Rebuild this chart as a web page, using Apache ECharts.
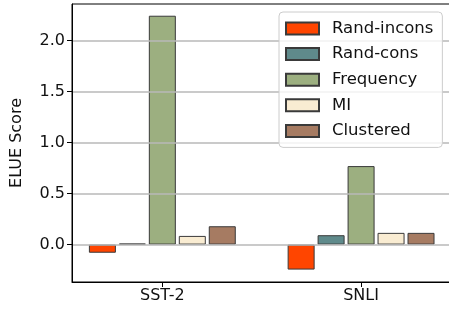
<!DOCTYPE html>
<html><head><meta charset="utf-8">
<script src="https://cdn.jsdelivr.net/npm/echarts@6/dist/echarts.min.js"></script>
<style>html,body{margin:0;padding:0;background:#fff}#c{width:449px;height:311px}</style>
</head><body><div id="c"></div>
<script>
const categories = ['SST-2', 'SNLI'];
const seriesNames = ['Rand-incons', 'Rand-cons', 'Frequency', 'MI', 'Clustered'];
const randIncons = [-0.08, -0.245];
const randCons = [0.01, 0.092];
const frequency = [2.245, 0.77];
const mi = [0.085, 0.115];
const clustered = [0.18, 0.115];
const yTicks = [0, 0.5, 1.0, 1.5, 2.0];
const colors = ['#ff4500', '#5f8a8b', '#9caf80', '#f9ecd2', '#a67b62'];

const values = [randIncons, randCons, frequency, mi, clustered];
const font = 'DejaVu Sans';
const chart = echarts.init(document.getElementById('c'), null, {renderer: 'canvas'});
chart.setOption({
  animation: false,
  textStyle: {fontFamily: font},
  grid: {left: 72, top: 4, width: 381, height: 278, show: true, borderColor: '#000', borderWidth: 1,
         backgroundColor: 'transparent', outerBoundsMode: 'none', containLabel: false},
  legend: {
    orient: 'vertical', left: 279, top: 12,
    padding: [8, 9, 8, 6],
    itemWidth: 33, itemHeight: 12, itemGap: 8.6,
    icon: 'rect',
    backgroundColor: 'rgba(255,255,255,0.8)',
    borderColor: '#cccccc', borderWidth: 1, borderRadius: 4,
    textStyle: {fontFamily: font, fontSize: 16.5, color: '#111', lineHeight: 16.5, padding: [0, 0, 0, 8]},
    data: seriesNames
  },
  xAxis: {
    type: 'value', min: -0.4545, max: 1.4625,
    axisLine: {show: true, onZero: false, lineStyle: {color: '#000', width: 1}},
    axisTick: {show: true, customValues: [0, 1], length: 5, lineStyle: {color: '#000'}},
    axisLabel: {customValues: [0, 1], formatter: v => categories[Math.round(v)], fontFamily: font, fontSize: 16, color: '#111', margin: 6},
    splitLine: {show: false}
  },
  yAxis: {
    type: 'value', min: -0.367, max: 2.36, z: 3,
    name: 'ELUE Score', nameLocation: 'middle', nameGap: 47,
    nameTextStyle: {fontFamily: font, fontSize: 16, color: '#111'},
    axisLine: {show: true, onZero: false, lineStyle: {color: '#000', width: 1}},
    axisTick: {show: true, customValues: yTicks, length: 5, lineStyle: {color: '#000'}},
    axisLabel: {customValues: yTicks, formatter: v => v.toFixed(1), fontFamily: font, fontSize: 16, color: '#111', margin: 7},
    splitLine: {show: true, lineStyle: {color: '#b8b8b8', width: 1.5}}
  },
  series: seriesNames.map((n, i) => ({
    name: n, type: 'bar', barWidth: 27, barGap: '11%',
    data: categories.map((c, j) => [j, values[i][j]]),
    itemStyle: {color: colors[i], borderColor: '#3a3a3a', borderWidth: 1}
  }))
});
</script></body></html>
